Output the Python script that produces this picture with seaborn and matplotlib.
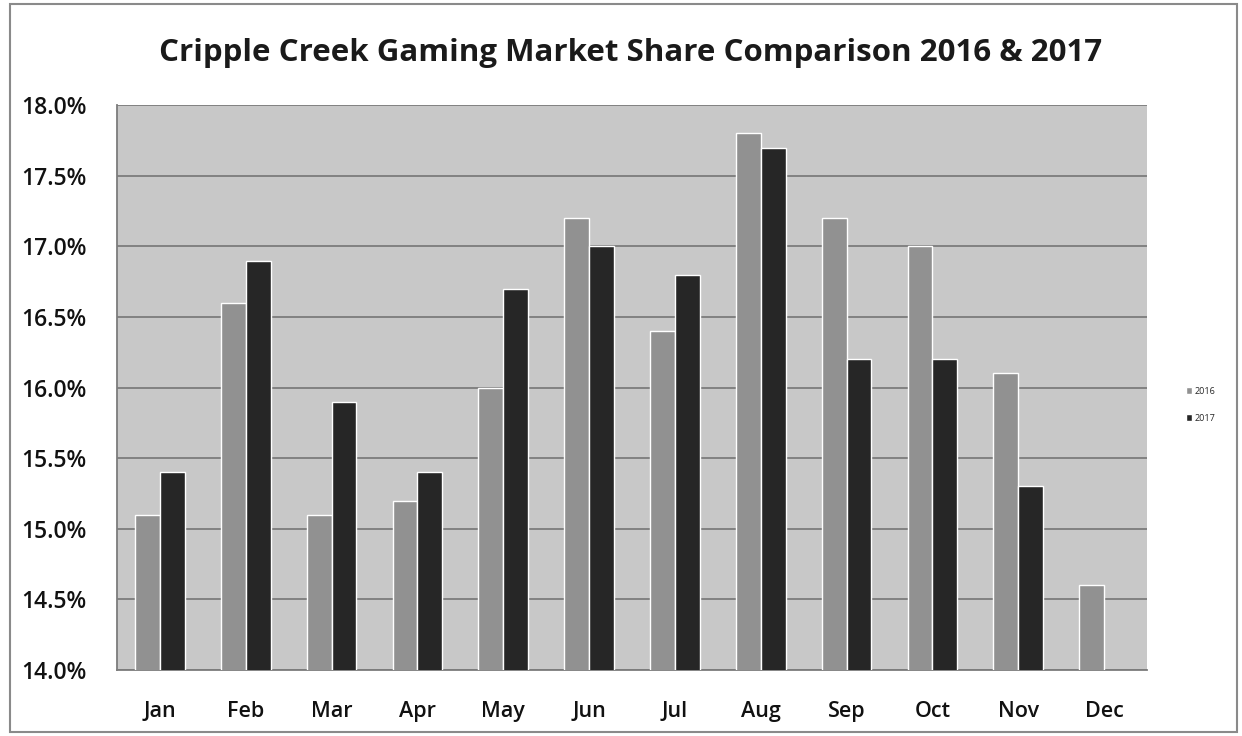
import pandas as pd
import numpy as np
import matplotlib.pyplot as plt
import seaborn as sns
from matplotlib.ticker import FuncFormatter, FixedLocator
from matplotlib.patches import Rectangle

# Market share values (%)
months = ["Jan", "Feb", "Mar", "Apr", "May", "Jun", "Jul", "Aug", "Sep", "Oct", "Nov", "Dec"]
share_2016 = [15.1, 16.6, 15.1, 15.2, 16.0, 17.2, 16.4, 17.8, 17.2, 17.0, 16.1, 14.6]
share_2017 = [15.4, 16.9, 15.9, 15.4, 16.7, 17.0, 16.8, 17.7, 16.2, 16.2, 15.3, np.nan]
years = ["2016", "2017"]
y_ticks = [14.0, 14.5, 15.0, 15.5, 16.0, 16.5, 17.0, 17.5, 18.0]

df = pd.DataFrame({
    "Month": months * 2,
    "Year": [years[0]] * len(months) + [years[1]] * len(months),
    "Share": share_2016 + share_2017,
})

sns.set_style("white")
plt.rcParams['font.family'] = ['Open Sans', 'DejaVu Sans']

fig = plt.figure(figsize=(12.42, 7.36), dpi=100)
ax = fig.add_axes([0.0942, 0.0897, 0.8293, 0.7673])
ax.set_facecolor("#c8c8c8")

sns.barplot(data=df, x="Month", y="Share", hue="Year", order=months, hue_order=years,
            palette=["#919191", "#262626"], width=0.58, edgecolor="white", linewidth=1.0,
            ax=ax, zorder=3)

ax.set_ylim(14.0, 18.0)
ax.set_xlim(-0.5, len(months) - 0.5)
ax.yaxis.set_major_locator(FixedLocator(y_ticks))
ax.yaxis.set_major_formatter(FuncFormatter(lambda v, p: f"{v:.1f}%"))
ax.grid(axis="y", color="#7c7c7c", linewidth=1.3, zorder=0)
ax.set_axisbelow(True)

# Excel style ticks between categories
ax.set_xticks(np.arange(len(months)))
ax.set_xticklabels(months)
ax.xaxis.set_minor_locator(FixedLocator(np.arange(-0.5, len(months), 1.0)))
ax.tick_params(axis="x", which="major", length=0, labelsize=15.5, pad=22, colors="#111111")
ax.tick_params(axis="x", which="minor", length=8, width=1.2, color="#7c7c7c", direction="out")
ax.tick_params(axis="y", length=8, width=1.2, color="#7c7c7c", direction="out",
               labelsize=16.5, pad=14, labelcolor="#111111")
for lbl in ax.get_xticklabels() + ax.get_yticklabels():
    lbl.set_fontweight("semibold")

for side in ["top", "right"]:
    ax.spines[side].set_visible(False)
for side in ["left", "bottom"]:
    ax.spines[side].set_color("#7c7c7c")
    ax.spines[side].set_linewidth(1.3)

ax.set_xlabel("")
ax.set_ylabel("")

leg = ax.legend(loc="center left", bbox_to_anchor=(1.03, 0.47), frameon=False,
                fontsize=6.5, handlelength=0.7, handleheight=0.7, handletextpad=0.2,
                labelspacing=2.0)

fig.suptitle("Cripple Creek Gaming Market Share Comparison 2016 & 2017",
             x=0.508, y=0.948, fontsize=22.5, fontweight="bold", color="#1a1a1a")

# outer chart border
fig.patches.append(Rectangle((0.008, 0.005), 0.988, 0.99, transform=fig.transFigure,
                             fill=False, edgecolor="#8a8a8a", linewidth=1.5))

fig.savefig("out.png", dpi=100)
